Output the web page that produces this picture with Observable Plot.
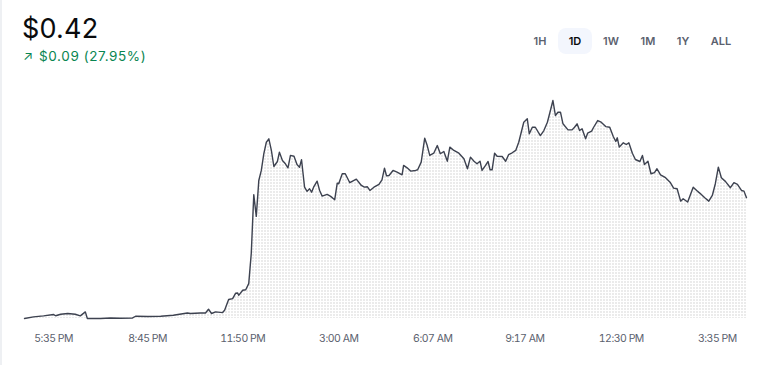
<!DOCTYPE html>
<html>
<head>
<meta charset="utf-8">
<script src="https://cdn.jsdelivr.net/npm/d3@7"></script>
<script src="https://cdn.jsdelivr.net/npm/@observablehq/plot@0.6"></script>
<style>
  html, body { margin: 0; padding: 0; background: #fff; }
  body { width: 768px; height: 365px; position: relative; overflow: hidden; font-family: Inter, "Noto Sans", sans-serif; }
  #strip { position: absolute; left: 0; top: 0; width: 2px; height: 365px; background: #eef0f3; }
  #price { position: absolute; left: 22px; top: 12px; font-size: 27px; color: #0a0b0d; font-weight: 400; letter-spacing: 0.2px; }
  #change { position: absolute; left: 23px; top: 48px; font-size: 13.5px; color: #098551; letter-spacing: 0.6px; }
  #change .arr { font-size: 13px; margin-right: 1px; }
  .btn { position: absolute; top: 28px; width: 34px; height: 26px; line-height: 26px; text-align: center; font-size: 11px; font-weight: 600; color: #5b616e; border-radius: 8px; }
  .btn.sel { background: #f3f6fd; color: #0a0b0d; }
  #chart { position: absolute; left: 0; top: 80px; }
</style>
</head>
<body>
<div id="strip"></div>
<div id="price"></div>
<div id="change"></div>
<div id="buttons"></div>
<div id="chart"></div>
<script>
// Header values
const currentPrice = "$0.42";
const changeText = "$0.09 (27.95%)";
const ranges = ["1H", "1D", "1W", "1M", "1Y", "ALL"];
const selectedRange = "1D";

// Series: minutes since 4:37 PM and price in USD
const minutes = [0,18,38,58,62,72,86,101,111,121,125,151,171,191,215,221,245,271,296,324,330,350,360,366,372,380,394,398,406,414,420,424,426,434,440,446,451,456,461,466,471,476,481,486,491,496,503,507,513,518,524,529,536,542,547,551,557,562,567,571,575,582,587,592,602,609,617,622,625,632,638,647,660,670,676,682,687,695,705,711,716,720,725,733,741,751,754,761,768,778,782,789,796,801,806,814,821,827,834,841,846,854,864,874,881,887,894,900,906,910,917,922,926,930,935,940,950,957,963,970,977,983,993,1000,1004,1010,1016,1026,1033,1040,1046,1051,1056,1061,1066,1071,1081,1089,1094,1099,1104,1109,1116,1120,1128,1132,1140,1147,1156,1164,1171,1176,1179,1183,1191,1197,1202,1209,1215,1224,1229,1233,1240,1246,1253,1258,1265,1275,1284,1291,1298,1305,1310,1319,1330,1337,1343,1353,1361,1368,1374,1380,1386,1394,1404,1411,1418,1426,1431,1436];
const prices = [0.3283,0.3295,0.3303,0.3313,0.3304,0.3315,0.3321,0.3315,0.3303,0.3333,0.3283,0.3283,0.3287,0.3285,0.3287,0.3300,0.3298,0.3300,0.3308,0.3325,0.3321,0.3325,0.3325,0.3353,0.3321,0.3333,0.3328,0.3346,0.3427,0.3434,0.3475,0.3477,0.3459,0.3497,0.3501,0.3548,0.3776,0.4223,0.4058,0.4331,0.4407,0.4534,0.4621,0.4647,0.4559,0.4437,0.4475,0.4546,0.4483,0.4462,0.4427,0.4521,0.4515,0.4452,0.4432,0.4488,0.4280,0.4248,0.4268,0.4242,0.4280,0.4326,0.4255,0.4212,0.4225,0.4210,0.4185,0.4311,0.4306,0.4382,0.4382,0.4314,0.4341,0.4293,0.4280,0.4283,0.4255,0.4280,0.4301,0.4336,0.4424,0.4367,0.4369,0.4407,0.4394,0.4374,0.4445,0.4427,0.4402,0.4407,0.4412,0.4470,0.4652,0.4596,0.4521,0.4538,0.4596,0.4534,0.4551,0.4477,0.4584,0.4559,0.4538,0.4496,0.4420,0.4508,0.4477,0.4458,0.4477,0.4407,0.4445,0.4475,0.4412,0.4412,0.4538,0.4515,0.4513,0.4477,0.4528,0.4541,0.4559,0.4621,0.4773,0.4799,0.4685,0.4735,0.4735,0.4672,0.4710,0.4773,0.4862,0.4938,0.4824,0.4849,0.4849,0.4761,0.4715,0.4715,0.4735,0.4761,0.4710,0.4723,0.4647,0.4690,0.4705,0.4735,0.4786,0.4773,0.4740,0.4735,0.4665,0.4627,0.4655,0.4584,0.4617,0.4604,0.4617,0.4538,0.4490,0.4475,0.4521,0.4452,0.4477,0.4382,0.4390,0.4420,0.4374,0.4352,0.4318,0.4273,0.4268,0.4174,0.4192,0.4167,0.4280,0.4255,0.4235,0.4200,0.4174,0.4217,0.4306,0.4432,0.4352,0.4324,0.4276,0.4314,0.4301,0.4255,0.4250,0.4200];

// X axis ticks
const tickMinutes = [58, 245, 434, 625, 812, 995, 1187, 1378];
const tickLabels = ["5:35 PM", "8:45 PM", "11:50 PM", "3:00 AM", "6:07 AM", "9:17 AM", "12:30 PM", "3:35 PM"];

// Header
document.getElementById("price").textContent = currentPrice;
document.getElementById("change").innerHTML = '<span class="arr">\u2197</span> ' + changeText;
const btnCenters = [540, 575, 611, 648, 683, 721];
const bwrap = document.getElementById("buttons");
ranges.forEach((r, i) => {
  const b = document.createElement("div");
  b.className = "btn" + (r === selectedRange ? " sel" : "");
  b.style.left = (btnCenters[i] - 17) + "px";
  b.textContent = r;
  bwrap.appendChild(b);
});

const data = minutes.map((m, i) => ({m, p: prices[i]}));
const yMin = d3.min(prices), yMax = d3.max(prices);
const labelAt = new Map(tickMinutes.map((t, i) => [t, tickLabels[i]]));

const chart = Plot.plot({
  width: 768,
  height: 285,
  marginLeft: 24,
  marginRight: 22,
  marginTop: 20,
  marginBottom: 47,
  style: {fontFamily: "Inter, sans-serif", fontSize: "10.5px", color: "#5b616e", background: "transparent"},
  x: {domain: [0, 1436], ticks: tickMinutes, tickFormat: d => labelAt.get(d), tickSize: 0, tickPadding: 16, label: null},
  y: {domain: [yMin, yMax], axis: null},
  marks: [
    Plot.areaY(data, {x: "m", y1: yMin, y2: "p", fill: "url(#dots)"}),
    Plot.line(data, {x: "m", y: "p", stroke: "#3d4250", strokeWidth: 1.4, strokeLinejoin: "round"})
  ]
});

// dotted pattern fill
const ns = "http://www.w3.org/2000/svg";
const defs = document.createElementNS(ns, "defs");
const pat = document.createElementNS(ns, "pattern");
pat.setAttribute("id", "dots");
pat.setAttribute("width", "3");
pat.setAttribute("height", "3");
pat.setAttribute("patternUnits", "userSpaceOnUse");
const r = document.createElementNS(ns, "rect");
r.setAttribute("x", "0"); r.setAttribute("y", "0");
r.setAttribute("width", "2"); r.setAttribute("height", "2");
r.setAttribute("fill", "#ebebeb");
pat.appendChild(r);
defs.appendChild(pat);
chart.insertBefore(defs, chart.firstChild);
chart.querySelectorAll('[aria-label="area"] path').forEach(p => p.setAttribute("fill", "url(#dots)"));
chart.querySelectorAll('[aria-label="x-axis tick label"] text, [aria-label="x-axis"] text').forEach(t => { t.setAttribute("fill", "#5b616e"); t.style.letterSpacing = "-0.5px"; });

document.getElementById("chart").appendChild(chart);
</script>
</body>
</html>
